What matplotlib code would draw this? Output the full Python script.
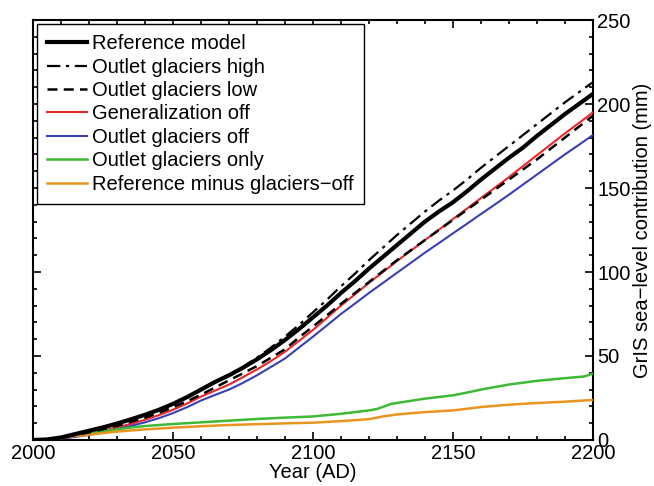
import numpy as np
import matplotlib.pyplot as plt
from matplotlib.ticker import MultipleLocator

plt.rcParams['font.family'] = ['Liberation Sans', 'DejaVu Sans']

# years for the big curves
years = [2000, 2005, 2010, 2015, 2020, 2025, 2030, 2035, 2040, 2045, 2050, 2055,
         2060, 2065, 2070, 2075, 2080, 2085, 2090, 2095, 2100, 2105, 2110, 2115,
         2120, 2125, 2130, 2135, 2140, 2145, 2150, 2155, 2160, 2165, 2170, 2175,
         2180, 2185, 2190, 2195, 2200]

reference = [0, 0.3, 1.5, 3.5, 5.5, 7.5, 9.8, 12.3, 15, 18, 21.5, 25.5,
             30, 34.5, 38.5, 43, 48, 53.5, 59.5, 66, 73, 80, 87.5, 94.5,
             102, 109, 116, 123, 130, 136, 141.5, 148, 155, 161.5, 168, 174,
             181, 187.5, 194, 200, 206]

glaciers_high = [0, 0.3, 1.5, 3.5, 5.5, 7.5, 9.8, 12.3, 15, 18, 21.5, 25.5,
                 30, 34.5, 39, 43.5, 49, 55, 61.5, 68.5, 76, 83.5, 91.5, 99,
                 107, 114.5, 122, 129, 136, 142.5, 148.5, 155, 162, 168.5, 175, 181.5,
                 188, 194.5, 201, 207, 213]

glaciers_low = [0, 0.2, 1.2, 2.9, 4.5, 6.4, 8.5, 10.8, 13.3, 16.2, 19.5, 23,
                27, 31.2, 35.5, 39.7, 44, 49, 54, 61, 67.5, 74.2, 81, 87.5,
                94, 100.5, 107, 113, 119, 125, 131, 137, 143, 149, 155, 161,
                167, 173.5, 180, 186.5, 193]

generalization_off = [0, 0.2, 1, 2.3, 3.8, 5.6, 7.5, 9.6, 12, 14.8, 18, 21.7,
                      25.8, 29.4, 33, 37.4, 42, 47, 52.5, 59, 65.5, 72.7, 80, 86.7,
                      93.5, 100, 106.5, 112.7, 119, 125.2, 131.5, 137.7, 144, 150.2, 156.5, 163,
                      169.5, 176, 182.5, 188.7, 195]

glaciers_off = [0, 0.2, 0.8, 1.8, 3, 4.7, 6.5, 8.4, 10.5, 13, 16, 19.5,
                23.5, 26.8, 30, 34, 38.5, 43.5, 48.5, 55, 61.5, 68.2, 75, 81.2,
                87.5, 93.5, 99.5, 105.5, 111.5, 117.2, 123, 128.7, 134.5, 140.2, 146, 152,
                158, 164, 170, 175.7, 181.5]

years_green = [2000, 2005, 2010, 2015, 2020, 2025, 2030, 2035, 2040, 2050, 2060, 2070,
               2080, 2090, 2100, 2110, 2120, 2123, 2128, 2140, 2150, 2155, 2160, 2170,
               2180, 2190, 2197, 2200]
glaciers_only = [0, 0.5, 1.5, 2.8, 4, 5.2, 6.3, 7.4, 8.3, 9.5, 10.5, 11.5,
                 12.5, 13.3, 14, 15.6, 17.6, 18.5, 21.5, 24.6, 26.6, 28.2, 30, 33,
                 35.2, 36.8, 37.8, 39.5]

years_orange = [2000, 2005, 2010, 2015, 2020, 2025, 2030, 2040, 2050, 2060, 2070, 2080,
                2090, 2100, 2110, 2120, 2125, 2130, 2140, 2150, 2160, 2170, 2180, 2190, 2200]
ref_minus_off = [0, 0.5, 1.3, 2.3, 3.2, 4.1, 5, 6.3, 7.3, 8.2, 8.9, 9.4,
                 9.9, 10.3, 11.2, 12.4, 14, 15.2, 16.6, 17.6, 19.6, 21, 22, 22.8, 23.8]

fs = 14.5

fig = plt.figure(figsize=(6.54, 4.86), dpi=100)
ax = fig.add_axes([0.0505, 0.0947, 0.856, 0.864])

ax.plot(years, reference, color='black', lw=3.0, label='Reference model', zorder=5)
ax.plot(years, glaciers_high, color='black', lw=1.6, ls=(0, (6, 2.5, 1.5, 2.5)),
        label='Outlet glaciers high', zorder=4)
ax.plot(years, glaciers_low, color='black', lw=1.8, ls=(0, (4, 2.5)),
        label='Outlet glaciers low', zorder=4)
ax.plot(years, generalization_off, color='#e8262a', lw=1.5, label='Generalization off', zorder=3)
ax.plot(years, glaciers_off, color='#3b3fb2', lw=1.5, label='Outlet glaciers off', zorder=3)
ax.plot(years_green, glaciers_only, color='#3fba34', lw=1.8, label='Outlet glaciers only', zorder=3)
ax.plot(years_orange, ref_minus_off, color='#e8951f', lw=1.8,
        label='Reference minus glaciers\u2212off', zorder=3)

ax.set_xlim(2000, 2200)
ax.set_ylim(0, 250)
ax.xaxis.set_major_locator(MultipleLocator(50))
ax.xaxis.set_minor_locator(MultipleLocator(10))
ax.yaxis.set_major_locator(MultipleLocator(50))
ax.yaxis.set_minor_locator(MultipleLocator(10))
ax.tick_params(which='both', direction='in', top=True, bottom=True, left=True, right=True,
               labelleft=False, labelright=True, labelsize=fs, width=1.2, pad=3)
ax.tick_params(which='major', length=6)
ax.tick_params(which='minor', length=3)
for sp in ax.spines.values():
    sp.set_linewidth(1.5)

ax.yaxis.set_label_position('right')
ax.set_ylabel('GrIS sea\u2212level contribution (mm)', fontsize=fs, labelpad=2)
ax.set_xlabel('Year (AD)', fontsize=fs, labelpad=0)

leg = ax.legend(loc='upper left', fontsize=fs, frameon=True, fancybox=False,
                edgecolor='black', framealpha=1, handlelength=2.0, handletextpad=0.25,
                labelspacing=0.22, borderaxespad=0.2, borderpad=0.5)
leg.get_frame().set_linewidth(1.0)

fig.savefig('out.png', dpi=100)
